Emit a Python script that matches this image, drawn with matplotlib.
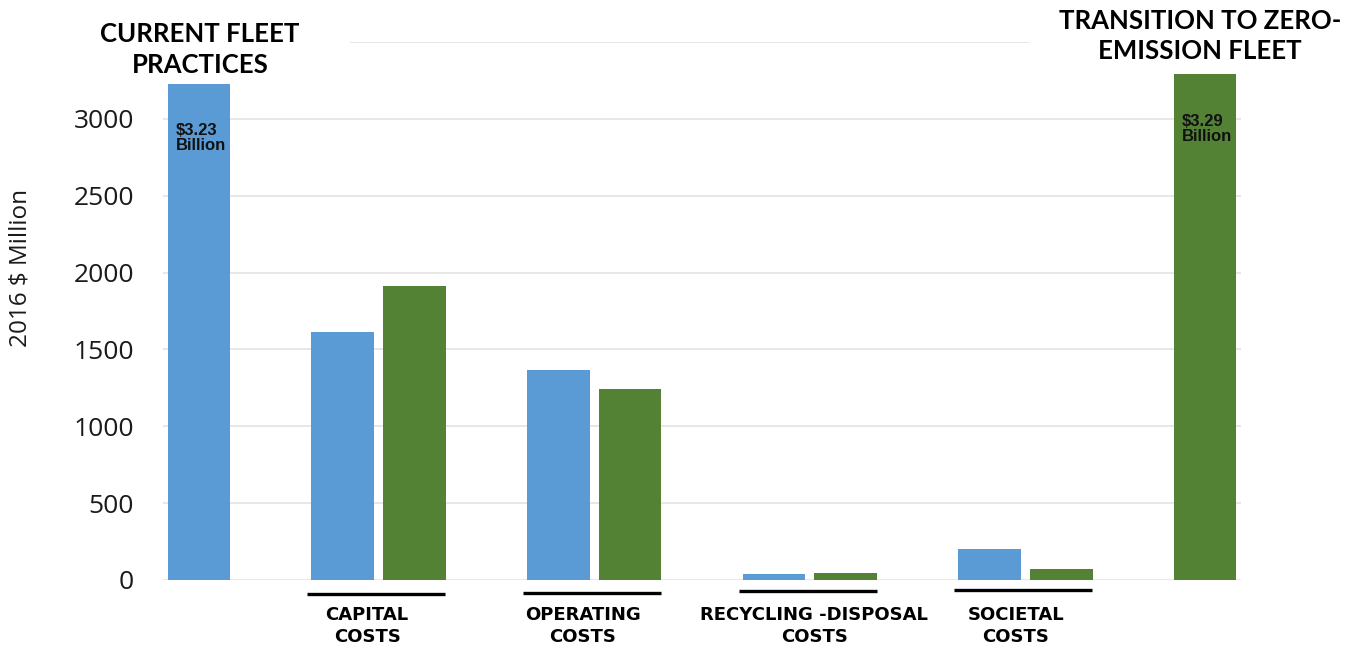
"""
Fleet cost comparison: current fleet practices vs transition to zero-emission fleet
"""

import matplotlib.pyplot as plt

# ── Data ──────────────────────────────────────
groups       = ["CAPITAL\nCOSTS", "OPERATING\nCOSTS", "RECYCLING -DISPOSAL\nCOSTS", "SOCIETAL\nCOSTS"]
current_part = [1613, 1366, 37, 204]
zero_part    = [1913, 1243, 48, 72]
current_total = 3230
zero_total    = 3290
total_labels  = ["$3.23\nBillion", "$3.29\nBillion"]
yticks        = [0, 500, 1000, 1500, 2000, 2500, 3000]

BLUE  = "#5B9BD5"
GREEN = "#548235"
GRID  = "#E3E3E3"

# ── Figure ────────────────────────────────────
fig = plt.figure(figsize=(13.46, 6.48), dpi=100)
ax = fig.add_axes([0.1211, 0.105, 0.8009, 0.830])

w   = 0.29
off = 0.1667
centers = [1, 2, 3, 4]

ax.bar(0 + off, current_total, w, color=BLUE, zorder=3)
ax.bar(5 - off, zero_total, w, color=GREEN, zorder=3)
ax.bar([c - off for c in centers], current_part, w, color=BLUE, zorder=3)
ax.bar([c + off for c in centers], zero_part, w, color=GREEN, zorder=3)

# labels inside the total bars
ax.text(0 + off - w / 2 + 0.037, current_total - 357, total_labels[0], ha="left", va="center",
        fontsize=12, fontweight="bold", family="Liberation Sans", linespacing=1.0,
        color="#111111", zorder=4)
ax.text(5 - off - w / 2 + 0.037, zero_total - 356, total_labels[1], ha="left", va="center",
        fontsize=12, fontweight="bold", family="Liberation Sans", linespacing=1.0,
        color="#111111", zorder=4)

# axes styling
ax.set_xlim(0, 5)
ax.set_ylim(0, 3500)
ax.set_yticks(yticks)
ax.set_yticklabels([str(v) for v in yticks], family="Open Sans", fontsize=19, color="#1a1a1a")
ax.tick_params(axis="y", length=0, pad=21)
ax.set_xticks([])
ax.yaxis.grid(True, color=GRID, linewidth=1.2, zorder=0)
ax.hlines(3500, 0.868, 4.016, color=GRID, linewidth=1.2, zorder=0)
for s in ax.spines.values():
    s.set_visible(False)

ax.set_ylabel("2016 $ Million", family="Open Sans", fontsize=17.5, color="#1a1a1a")
ax.yaxis.set_label_coords(-0.1206, 0.58)

# group underlines and labels below the axis
line_y  = [-91, -85, -72, -65]
label_x = [0.947, 1.947, 3.02, 3.955]
for c, ly, lx, name in zip(centers, line_y, label_x, groups):
    ax.plot([c - 0.33, c + 0.31], [ly, ly], color="black", linewidth=2.4, clip_on=False,
            solid_capstyle="butt")
    ax.text(lx, -300, name, ha="center", va="center", family="Liberation Sans Narrow",
            fontweight="bold", fontsize=13, linespacing=1.3, clip_on=False)

# scenario headers
fig.text(0.1486, 0.923, "CURRENT FLEET\nPRACTICES", ha="center", va="center",
         family="Lato", fontweight="bold", fontsize=18.5, linespacing=1.35)
fig.text(0.8915, 0.945, "TRANSITION TO ZERO-\nEMISSION FLEET", ha="center", va="center",
         family="Lato", fontweight="bold", fontsize=18.5, linespacing=1.3)

plt.savefig("out.png", dpi=100)
print("[OK] Saved out.png")
